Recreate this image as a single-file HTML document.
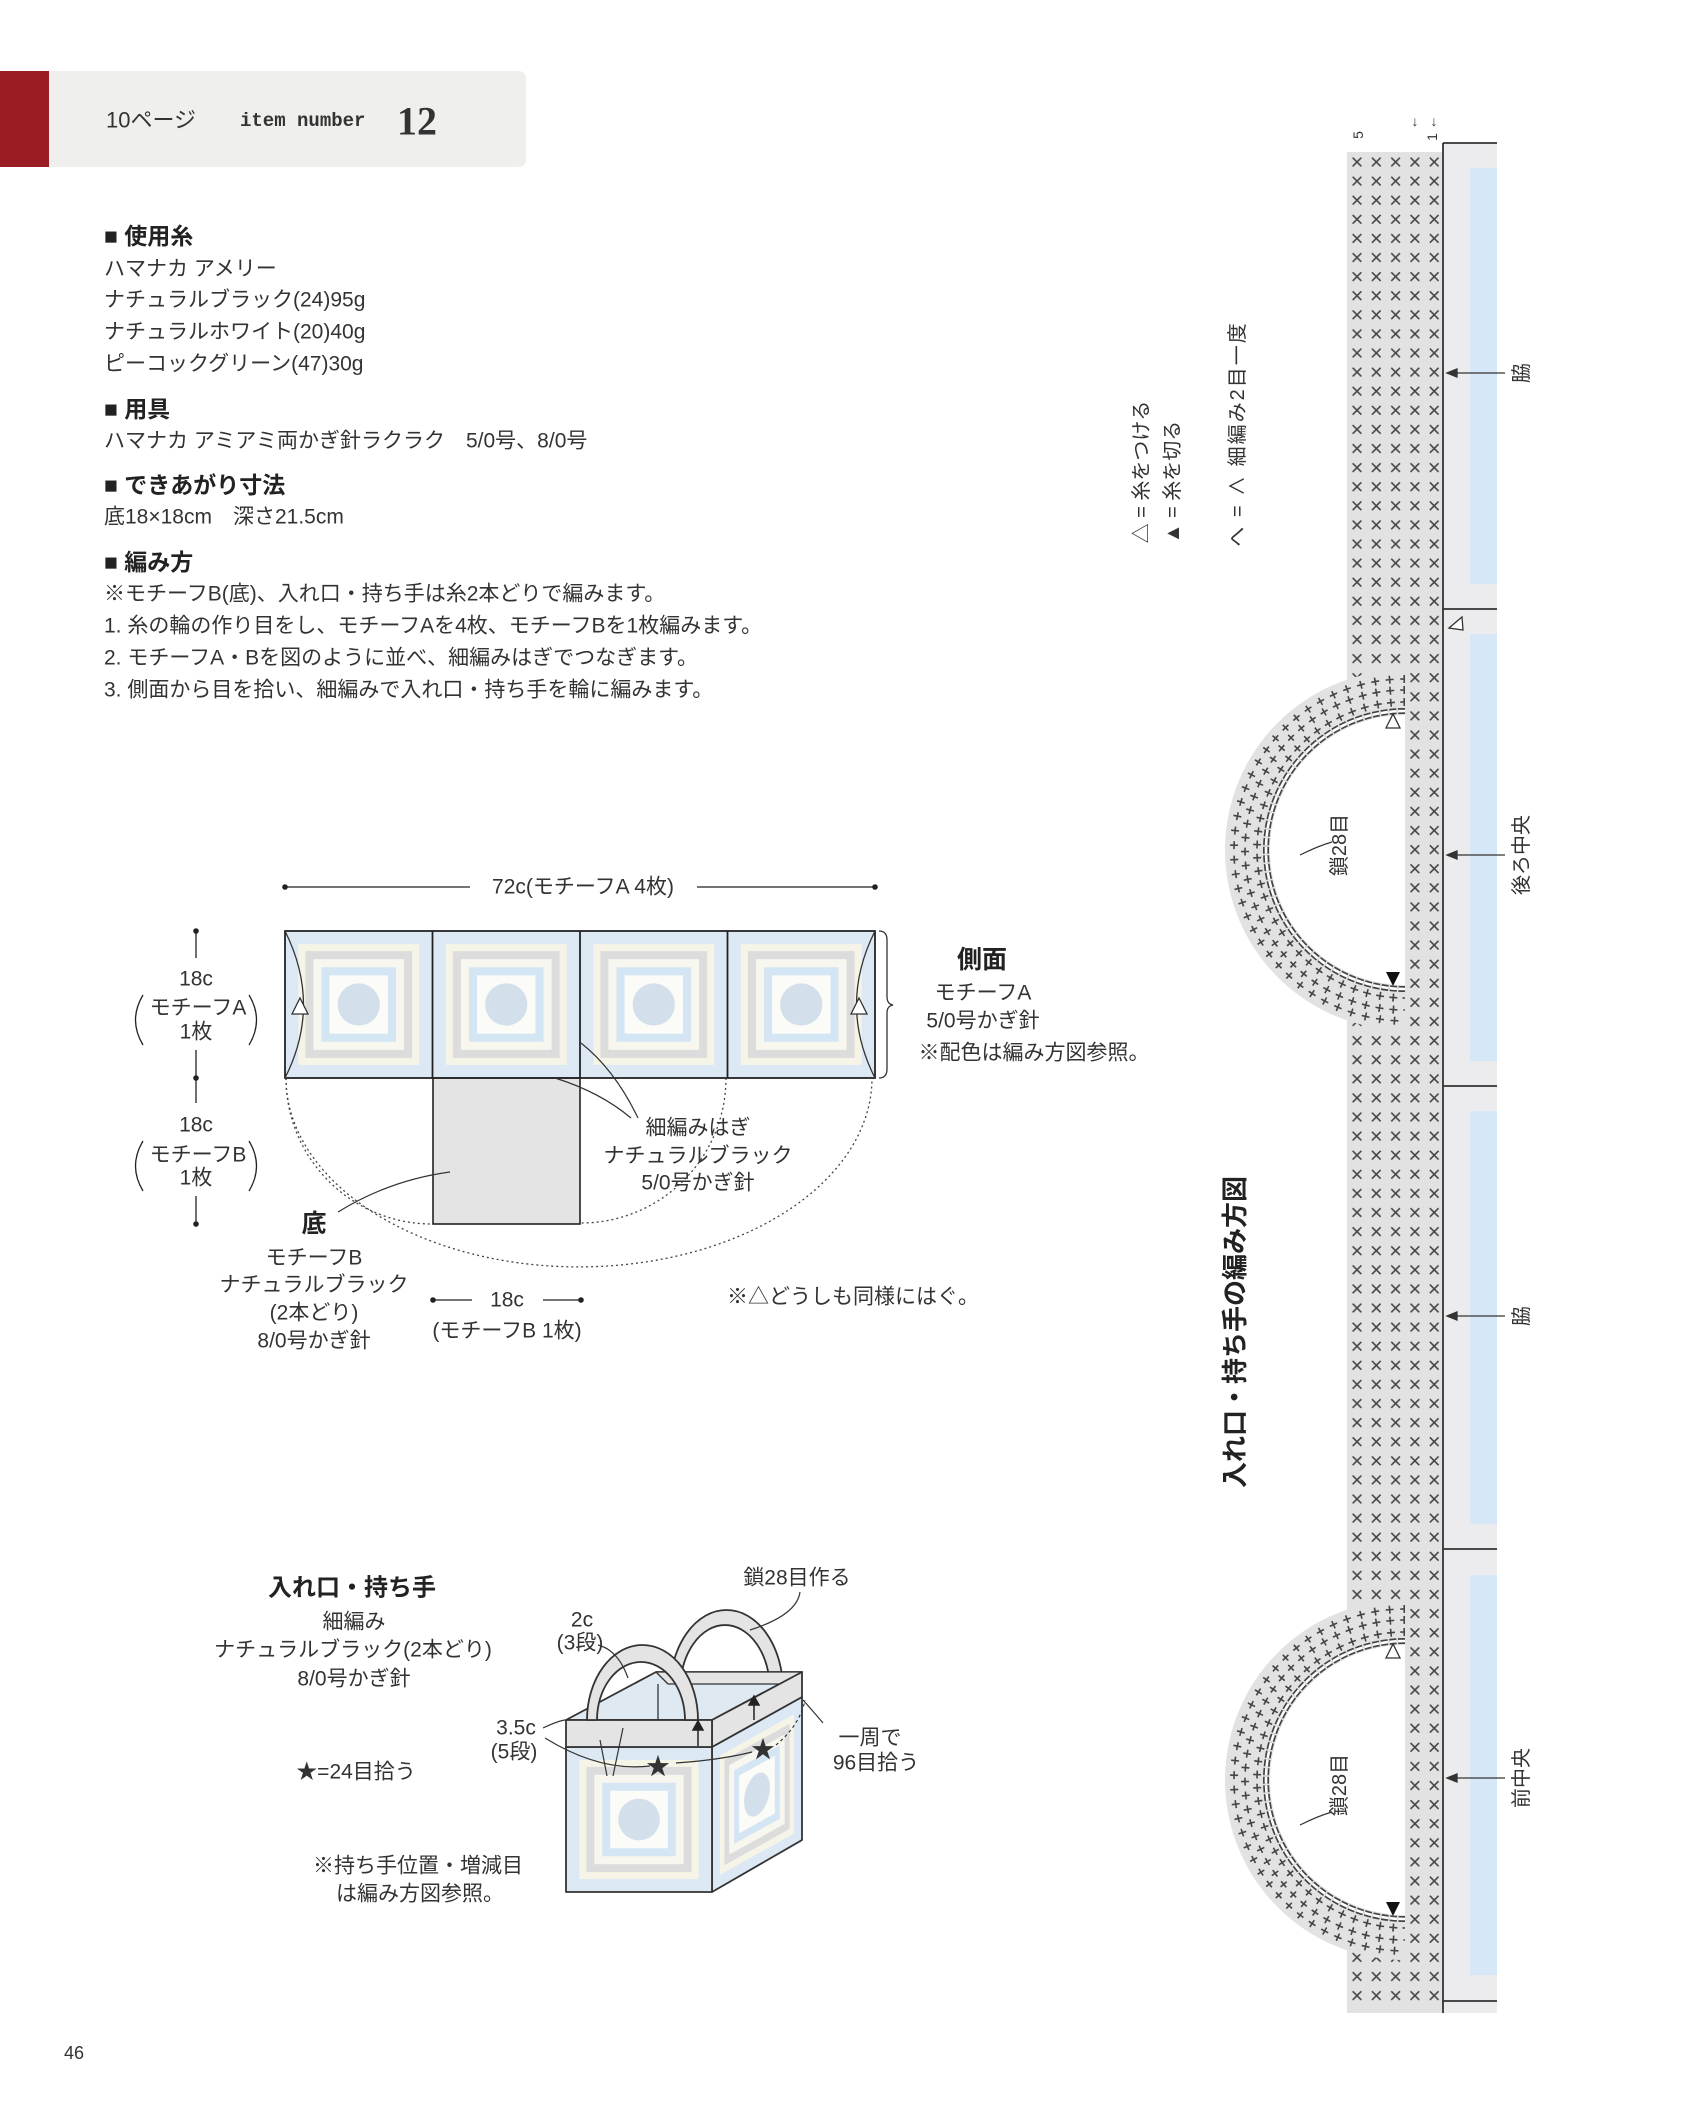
<!DOCTYPE html>
<html><head><meta charset="utf-8">
<style>
html,body{margin:0;padding:0;background:#fff;}
body{width:1700px;height:2125px;position:relative;overflow:hidden;}
svg{position:absolute;left:0;top:0;}
text{font-family:"Liberation Sans","Noto Sans CJK JP",sans-serif;fill:#333;}
.b{font-weight:bold;fill:#222;}
</style></head><body>
<svg width="1700" height="2125" viewBox="0 0 1700 2125" xmlns="http://www.w3.org/2000/svg">
<defs>
<symbol id="mot" viewBox="0 0 146 146">
<rect x="0" y="0" width="146" height="146" fill="#dce9f4"/>
<rect x="13" y="13" width="120" height="120" fill="#f6f4e7"/>
<rect x="20" y="20" width="106" height="106" fill="#dcdcdc"/>
<rect x="28" y="28" width="90" height="90" fill="#f8f7ef"/>
<rect x="36" y="36" width="74" height="74" fill="#d4e5f4"/>
<rect x="44" y="44" width="58" height="58" fill="#fbfbf7"/>
<circle cx="73" cy="73" r="21" fill="#d3e0ec"/>
</symbol>
<pattern id="xs" patternUnits="userSpaceOnUse" x="1347.35" y="152.45" width="19.3" height="19.1">
<path d="M5.3,5.2 L14,13.9 M14,5.2 L5.3,13.9" stroke="#444" stroke-width="1.6"/>
</pattern>
</defs>

<!-- header -->
<rect x="0" y="71" width="49" height="96" fill="#9b1c22"/>
<path d="M49,71 H518 Q526,71 526,79 V159 Q526,167 518,167 H49 Z" fill="#efefed"/>
<text x="106" y="120" font-size="22" dominant-baseline="central">10ページ</text>
<text x="240" y="121" font-size="19" font-weight="bold" style="font-family:'Liberation Mono',monospace" dominant-baseline="central">item number</text>
<text x="397" y="121" font-size="40" font-weight="bold" style="font-family:'Liberation Serif',serif" fill="#222" dominant-baseline="central">12</text>

<!-- materials -->
<g font-size="21">
<text x="104" y="236" class="b" font-size="23" dominant-baseline="central">■ 使用糸</text>
<text x="104" y="269" dominant-baseline="central">ハマナカ アメリー</text>
<text x="104" y="300" dominant-baseline="central">ナチュラルブラック(24)95g</text>
<text x="104" y="332" dominant-baseline="central">ナチュラルホワイト(20)40g</text>
<text x="104" y="364" dominant-baseline="central">ピーコックグリーン(47)30g</text>
<text x="104" y="409" class="b" font-size="23" dominant-baseline="central">■ 用具</text>
<text x="104" y="441" dominant-baseline="central">ハマナカ アミアミ両かぎ針ラクラク　5/0号、8/0号</text>
<text x="104" y="485" class="b" font-size="23" dominant-baseline="central">■ できあがり寸法</text>
<text x="104" y="517" dominant-baseline="central">底18×18cm　深さ21.5cm</text>
<text x="104" y="562" class="b" font-size="23" dominant-baseline="central">■ 編み方</text>
<text x="104" y="594" dominant-baseline="central">※モチーフB(底)、入れ口・持ち手は糸2本どりで編みます。</text>
<text x="104" y="626" dominant-baseline="central">1. 糸の輪の作り目をし、モチーフAを4枚、モチーフBを1枚編みます。</text>
<text x="104" y="658" dominant-baseline="central">2. モチーフA・Bを図のように並べ、細編みはぎでつなぎます。</text>
<text x="104" y="690" dominant-baseline="central">3. 側面から目を拾い、細編みで入れ口・持ち手を輪に編みます。</text>
</g>

<!-- diagram 1 -->
<g stroke="#222" stroke-width="1.3" fill="none">
<line x1="285" y1="887" x2="470" y2="887"/>
<line x1="697" y1="887" x2="875" y2="887"/>
</g>
<circle cx="285" cy="887" r="2.8" fill="#222"/><circle cx="875" cy="887" r="2.8" fill="#222"/>
<text x="583" y="887" font-size="21" text-anchor="middle" dominant-baseline="central">72c(モチーフA 4枚)</text>

<use href="#mot" x="285" y="931" width="147.5" height="147"/>
<use href="#mot" x="432.5" y="931" width="147.5" height="147"/>
<use href="#mot" x="580" y="931" width="147.5" height="147"/>
<use href="#mot" x="727.5" y="931" width="147.5" height="147"/>
<rect x="433" y="1078" width="147" height="146" fill="#e4e4e4" stroke="#222" stroke-width="1.6"/>
<g stroke="#222" stroke-width="1.8" fill="none">
<rect x="285" y="931" width="590" height="147"/>
<line x1="432.5" y1="931" x2="432.5" y2="1078"/>
<line x1="580" y1="931" x2="580" y2="1078"/>
<line x1="727.5" y1="931" x2="727.5" y2="1078"/>
</g>
<g stroke="#333" stroke-width="1.3" fill="none">
<path d="M285,931 Q322,1005 285,1078"/>
<path d="M875,931 Q838,1005 875,1078"/>
<path d="M292,1014 L300,998 L308,1014 Z" fill="#fff"/>
<path d="M851,1014 L859,998 L867,1014 Z" fill="#fff"/>
<path d="M879,931 Q887,931 887,940 V997 Q887,1004 893,1005 Q887,1006 887,1013 V1069 Q887,1078 879,1078"/>
</g>
<g stroke="#444" stroke-width="1.3" fill="none" stroke-dasharray="2 3">
<path d="M286,1078 A293 189 0 0 0 872,1078"/>
<path d="M286,1078 A146 146 0 0 0 432,1224"/>
<path d="M726,1078 A145 145 0 0 1 581,1223"/>
</g>
<g stroke="#333" stroke-width="1.2" fill="none">
<path d="M638,1118 Q615,1070 581,1043"/>
<path d="M631,1118 Q600,1092 555,1078"/>
<path d="M338,1212 Q390,1180 450,1172"/>
</g>
<!-- left dims -->
<g stroke="#222" stroke-width="1.3" fill="none">
<line x1="196" y1="931" x2="196" y2="958"/>
<line x1="196" y1="1050" x2="196" y2="1103"/>
<line x1="196" y1="1196" x2="196" y2="1224"/>
<path d="M143,995 Q128,1020 143,1045"/>
<path d="M249,995 Q264,1020 249,1045"/>
<path d="M143,1141 Q128,1166 143,1191"/>
<path d="M249,1141 Q264,1166 249,1191"/>
</g>
<circle cx="196" cy="931" r="2.8" fill="#222"/><circle cx="196" cy="1078" r="2.8" fill="#222"/><circle cx="196" cy="1224" r="2.8" fill="#222"/>
<g font-size="21" text-anchor="middle" dominant-baseline="central">
<text x="196" y="979">18c</text>
<text x="198" y="1008">モチーフA</text>
<text x="196" y="1032">1枚</text>
<text x="196" y="1125">18c</text>
<text x="198" y="1155">モチーフB</text>
<text x="196" y="1178">1枚</text>
<text x="982" y="960" class="b" font-size="25">側面</text>
<text x="983" y="993">モチーフA</text>
<text x="983" y="1021">5/0号かぎ針</text>
<text x="1034" y="1053">※配色は編み方図参照。</text>
<text x="698" y="1128">細編みはぎ</text>
<text x="698" y="1156">ナチュラルブラック</text>
<text x="698" y="1183">5/0号かぎ針</text>
<text x="314" y="1224" class="b" font-size="25">底</text>
<text x="314" y="1258">モチーフB</text>
<text x="314" y="1285">ナチュラルブラック</text>
<text x="314" y="1313">(2本どり)</text>
<text x="314" y="1341">8/0号かぎ針</text>
<text x="507" y="1300">18c</text>
<text x="507" y="1331">(モチーフB 1枚)</text>
<text x="853" y="1297">※△どうしも同様にはぐ。</text>
</g>
<g stroke="#222" stroke-width="1.3">
<line x1="433" y1="1300" x2="472" y2="1300"/><line x1="543" y1="1300" x2="581" y2="1300"/>
</g>
<circle cx="433" cy="1300" r="2.8" fill="#222"/><circle cx="581" cy="1300" r="2.8" fill="#222"/>

<!-- diagram 3 text -->
<g font-size="21" text-anchor="middle" dominant-baseline="central">
<text x="352" y="1588" class="b" font-size="24">入れ口・持ち手</text>
<text x="354" y="1622">細編み</text>
<text x="353" y="1650">ナチュラルブラック(2本どり)</text>
<text x="354" y="1679">8/0号かぎ針</text>
<text x="356" y="1772">★=24目拾う</text>
<text x="418" y="1866">※持ち手位置・増減目</text>
<text x="420" y="1894">は編み方図参照。</text>
<text x="797" y="1578">鎖28目作る</text>
<text x="582" y="1620">2c</text>
<text x="580" y="1643">(3段)</text>
<text x="516" y="1728">3.5c</text>
<text x="514" y="1752">(5段)</text>
<text x="612" y="1787">1.5c</text>
<text x="610" y="1810">(2段)</text>
<text x="870" y="1738">一周で</text>
<text x="876" y="1763">96目拾う</text>
</g>

<!-- bag -->
<g stroke="#333" stroke-width="1.8" stroke-linejoin="round">
<path d="M670,1690 A56.5 80 0 0 1 783,1690 L770,1690 A45 65 0 0 0 680,1690 Z" fill="#e4e4e4"/>
<path d="M566,1720 L656,1672 L802,1672 L712,1720 Z" fill="#dfe9f2"/>
<path d="M656,1672 L802,1672 L788,1684 L668,1684 Z" fill="#e4e4e4" stroke-width="1.3"/>
<line x1="658" y1="1684" x2="658" y2="1720" stroke-width="1.3"/>
<g transform="matrix(0.616,-0.342,0,0.993,712,1747)"><use href="#mot" x="0" y="0" width="146" height="146" stroke="none"/></g>
<path d="M712,1747 L802,1697 L802,1840 L712,1892 Z" fill="none"/>
<use href="#mot" x="566" y="1747" width="146" height="145" stroke="none"/>
<rect x="566" y="1747" width="146" height="145" fill="none"/>
<path d="M712,1720 L802,1672 L802,1697 L712,1747 Z" fill="#e4e4e4"/>
<rect x="566" y="1720" width="146" height="27" fill="#e4e4e4"/>
<path d="M587,1720 A55.5 75 0 0 1 698,1720 L685,1720 A44 58 0 0 0 597,1720 Z" fill="#e4e4e4"/>
<line x1="597" y1="1720" x2="685" y2="1720" stroke-width="1.3"/>
</g>
<g stroke="#222" stroke-width="1.5" fill="#222">
<line x1="698" y1="1746" x2="698" y2="1728"/><path d="M693,1730 L698,1721 L703,1730 Z"/>
<line x1="754" y1="1720" x2="754" y2="1703"/><path d="M749,1705 L754,1696 L759,1705 Z"/>
</g>
<g fill="none" stroke="#333" stroke-width="1.2">
<path d="M545,1738 Q600,1772 650,1766"/>
<path d="M676,1763 Q720,1760 752,1752"/>
<path d="M776,1745 Q800,1725 805,1700" stroke-dasharray="3 3"/>
<path d="M543,1728 Q560,1720 566,1720"/>
<path d="M598,1645 Q618,1650 628,1678"/>
<path d="M800,1592 Q797,1615 750,1630"/>
<path d="M823,1723 Q812,1710 803,1700"/>
<path d="M613,1776 L623,1728"/><path d="M607,1776 L600,1740"/>
</g>
<text x="658" y="1767" font-size="24" text-anchor="middle" dominant-baseline="central" fill="#111">★</text>
<text x="763" y="1750" font-size="24" text-anchor="middle" dominant-baseline="central" fill="#111">★</text>

<!-- right chart -->
<rect x="1443" y="143" width="54" height="1870" fill="#ececee"/>
<rect x="1470" y="168" width="27" height="416" fill="#d6e8f7"/>
<rect x="1470" y="634" width="27" height="427" fill="#d6e8f7"/>
<rect x="1470" y="1111" width="27" height="413" fill="#d6e8f7"/>
<rect x="1470" y="1575" width="27" height="400" fill="#d6e8f7"/>
<rect x="1347" y="152" width="96" height="1861" fill="#e2e2e2"/>
<rect x="1347" y="152" width="96" height="1855" fill="url(#xs)"/>
<g stroke="#333" stroke-width="1.8">
<line x1="1443" y1="143" x2="1443" y2="2013"/>
<line x1="1443" y1="143" x2="1497" y2="143"/>
<line x1="1443" y1="609" x2="1497" y2="609"/>
<line x1="1443" y1="1086" x2="1497" y2="1086"/>
<line x1="1443" y1="1549" x2="1497" y2="1549"/>
<line x1="1443" y1="2001" x2="1497" y2="2001"/>
</g>
<path d="M1449,628 L1462,617 L1463,630 Z" fill="#fff" stroke="#333" stroke-width="1.3"/>

<!-- handles -->
<g id="h1">
<path d="M1405,670 A180 180 0 0 0 1405,1030 Z" fill="#e2e2e2"/>
<path d="M1405,715 A135 135 0 0 0 1405,985 Z" fill="#fff"/>
<g fill="none" stroke="#444">
<path d="M1405,702 A148 148 0 0 0 1405,998" stroke-width="8" stroke-dasharray="1.6 11.7"/>
<path d="M1405,702 A148 148 0 0 0 1405,998" stroke-width="1.6" stroke-dasharray="8 5.3" stroke-dashoffset="3.2"/>
<path d="M1405,690 A160 160 0 0 0 1405,1010" stroke-width="8" stroke-dasharray="1.6 12.4"/>
<path d="M1405,690 A160 160 0 0 0 1405,1010" stroke-width="1.6" stroke-dasharray="8 6" stroke-dashoffset="3.2"/>
<path d="M1405,679 A171 171 0 0 0 1405,1021" stroke-width="8" stroke-dasharray="1.6 13"/>
<path d="M1405,679 A171 171 0 0 0 1405,1021" stroke-width="1.6" stroke-dasharray="8 6.6" stroke-dashoffset="3.2"/>
<path d="M1405,711 A139 139 0 0 0 1405,989" stroke-width="6" stroke-dasharray="7 1.6"/>
<path d="M1405,711 A139 139 0 0 0 1405,989" stroke-width="2.6" stroke="#fff" stroke-dasharray="7 1.6"/>
</g>
<path d="M1386,728 L1393,714 L1400,728 Z" fill="#fff" stroke="#333" stroke-width="1.3"/>
<path d="M1386,972 L1393,986 L1400,972 Z" fill="#111"/>
<path d="M1300,855 Q1318,846 1332,842" fill="none" stroke="#333" stroke-width="1.2"/>
<text transform="translate(1340,845) rotate(-90)" font-size="20" text-anchor="middle" dominant-baseline="central">鎖28目</text>
</g>
<g>
<path d="M1405,1600 A180 180 0 0 0 1405,1960 Z" fill="#e2e2e2"/>
<path d="M1405,1645 A135 135 0 0 0 1405,1915 Z" fill="#fff"/>
<g fill="none" stroke="#444">
<path d="M1405,1632 A148 148 0 0 0 1405,1928" stroke-width="8" stroke-dasharray="1.6 11.7"/>
<path d="M1405,1632 A148 148 0 0 0 1405,1928" stroke-width="1.6" stroke-dasharray="8 5.3" stroke-dashoffset="3.2"/>
<path d="M1405,1620 A160 160 0 0 0 1405,1940" stroke-width="8" stroke-dasharray="1.6 12.4"/>
<path d="M1405,1620 A160 160 0 0 0 1405,1940" stroke-width="1.6" stroke-dasharray="8 6" stroke-dashoffset="3.2"/>
<path d="M1405,1609 A171 171 0 0 0 1405,1951" stroke-width="8" stroke-dasharray="1.6 13"/>
<path d="M1405,1609 A171 171 0 0 0 1405,1951" stroke-width="1.6" stroke-dasharray="8 6.6" stroke-dashoffset="3.2"/>
<path d="M1405,1641 A139 139 0 0 0 1405,1919" stroke-width="6" stroke-dasharray="7 1.6"/>
<path d="M1405,1641 A139 139 0 0 0 1405,1919" stroke-width="2.6" stroke="#fff" stroke-dasharray="7 1.6"/>
</g>
<path d="M1386,1658 L1393,1644 L1400,1658 Z" fill="#fff" stroke="#333" stroke-width="1.3"/>
<path d="M1386,1902 L1393,1916 L1400,1902 Z" fill="#111"/>
<path d="M1300,1825 Q1318,1816 1332,1812" fill="none" stroke="#333" stroke-width="1.2"/>
<text transform="translate(1340,1785) rotate(-90)" font-size="20" text-anchor="middle" dominant-baseline="central">鎖28目</text>
</g>

<!-- side labels and arrows -->
<g stroke="#333" stroke-width="1.3" fill="#333">
<line x1="1456" y1="373" x2="1505" y2="373"/><path d="M1447,373 L1457,369 L1457,377 Z"/>
<line x1="1456" y1="855" x2="1505" y2="855"/><path d="M1447,855 L1457,851 L1457,859 Z"/>
<line x1="1456" y1="1316" x2="1505" y2="1316"/><path d="M1447,1316 L1457,1312 L1457,1320 Z"/>
<line x1="1456" y1="1778" x2="1505" y2="1778"/><path d="M1447,1778 L1457,1774 L1457,1782 Z"/>
</g>
<g font-size="20" text-anchor="middle" dominant-baseline="central">
<text transform="translate(1522,373) rotate(-90)">脇</text>
<text transform="translate(1522,855) rotate(-90)">後ろ中央</text>
<text transform="translate(1522,1316) rotate(-90)">脇</text>
<text transform="translate(1522,1778) rotate(-90)">前中央</text>
<text transform="translate(1358,135) rotate(-90)" font-size="14">5</text>
<text transform="translate(1432,137) rotate(-90)" font-size="14">1</text>
<text x="1415" y="121" font-size="14">↓</text>
<text x="1434" y="121" font-size="14">↓</text>
<text transform="translate(1142,472) rotate(-90)">△ = 糸をつける</text>
<text transform="translate(1173,482) rotate(-90)">▲ = 糸を切る</text>
<text transform="translate(1238,434) rotate(-90)" letter-spacing="2">へ = ∧ 細編み2目一度</text>
<text transform="translate(1235,1332) rotate(-90)" class="b" font-size="26">入れ口・持ち手の編み方図</text>
</g>

<text x="64" y="2053" font-size="18" dominant-baseline="central">46</text>
</svg>
</body></html>
